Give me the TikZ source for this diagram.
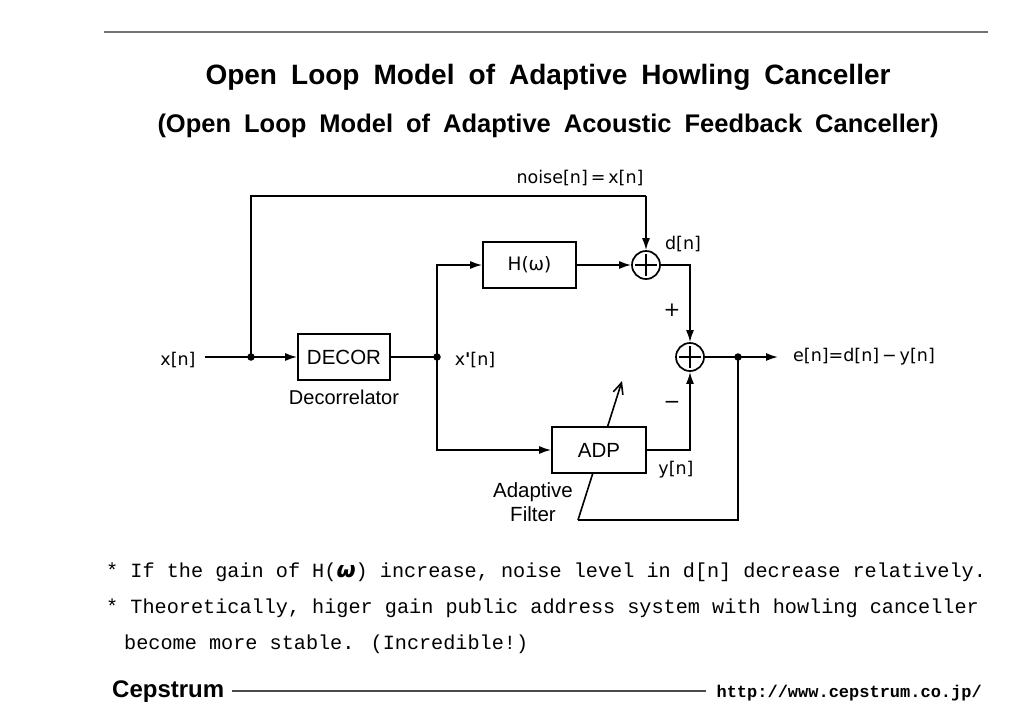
\documentclass[tikz,border=0pt]{standalone}
\usepackage{fontspec}
\setmainfont{Liberation Sans}
\newfontfamily\verd{DejaVu Sans}
\newfontfamily\arl{Liberation Sans}
\newfontfamily\cour{Liberation Mono}
\usetikzlibrary{arrows.meta}
\tikzset{
  sig/.style={line width=1.7pt,-{Latex[length=12pt,width=8pt]}},
  wire/.style={line width=1.7pt},
  box/.style={draw,line width=1.7pt,fill=white,minimum width=93pt,minimum height=46pt,inner sep=0pt},
  sumnode/.style={draw,circle,line width=1.7pt,minimum size=28pt,inner sep=0pt,fill=white,
    path picture={\draw[line width=1.7pt,shorten <=3pt,shorten >=3pt] (path picture bounding box.north) -- (path picture bounding box.south);
                  \draw[line width=1.7pt,shorten <=3pt,shorten >=3pt] (path picture bounding box.west) -- (path picture bounding box.east);}},
  dotnode/.style={circle,fill=black,minimum size=7.5pt,inner sep=0pt},
  lbl/.style={font=\verd\fontsize{17.5}{20}\selectfont,inner sep=0pt},
  albl/.style={font=\arl\fontsize{20}{22}\selectfont,inner sep=0pt},
  note/.style={font=\cour\fontsize{20.2}{22}\selectfont,inner sep=0pt,anchor=west}
}
\begin{document}
\begin{tikzpicture}[x=1pt,y=-1pt]
\useasboundingbox[fill=white] (0,0) rectangle (1024,724);
% rules
\draw[line width=1.2pt,black!55] (104,32) -- (988,32);
% titles
\node[inner sep=0pt,font=\bfseries\fontsize{28}{30}\selectfont] (t1) at (548,77) {\makebox[685pt][s]{Open Loop Model of Adaptive Howling Canceller}};
\node[inner sep=0pt,font=\bfseries\fontsize{25.5}{28}\selectfont] (t2) at (548,126) {\makebox[781pt][s]{(Open Loop Model of Adaptive Acoustic Feedback Canceller)}};
% coordinates
\coordinate (xin) at (205,357);
\coordinate (tl) at (251,196);
\coordinate (tr) at (646,196);
\coordinate (eout) at (778,357);
\coordinate (fb) at (578,520);
\coordinate (adtip) at (622,381);
% adaptation line (under the ADP box)
\draw[wire] (738,357) |- (fb);
\draw[line width=1.6pt,-{Straight Barb[length=11pt,width=10pt]}] (fb) -- (adtip);
% blocks
\node[box] (H) at (529.5,265) {\verd\fontsize{18.5}{20}\selectfont H(ω)};
\node[box,minimum width=92pt] (DEC) at (344,357) {\arl\fontsize{20.5}{22}\selectfont DECOR};
\node[box,minimum width=94pt] (ADP) at (599,450) {\arl\fontsize{20.5}{22}\selectfont ADP};
\node[sumnode] (S1) at (646,265) {};
\node[sumnode] (S2) at (690,357) {};
\node[dotnode] (j1) at (251,357) {};
\node[dotnode] (j2) at (437,357) {};
\node[dotnode] (j3) at (738,357) {};
% connectors
\draw[sig] (xin) -- (DEC.west);
\draw[wire] (j1.center) -- (tl) -- (tr);
\draw[sig] (tr) -- (S1.north);
\draw[wire] (DEC.east) -- (j2.center);
\draw[sig] (j2.center) |- (H.west);
\draw[sig] (j2.center) |- (ADP.west);
\draw[sig] (H.east) -- (S1.west);
\draw[sig] (S1.east) -| (S2.north);
\draw[sig] (ADP.east) -| (S2.south);
\draw[wire] (S2.east) -- (j3.center);
\draw[sig] (j3.center) -- (eout);
% labels
\node[lbl] (lnoise) at (580,178) {noise[n]\,=\,x[n]};
\node[lbl] (ld) at (683,244) {d[n]};
\node[lbl,font=\verd\fontsize{20}{20}\selectfont] (lplus) at (672,310) {+};
\node[lbl,font=\verd\fontsize{20}{20}\selectfont] (lminus) at (672,405) {−};
\node[lbl] (lx) at (178,360) {x[n]};
\node[lbl] (lxp) at (475,360) {x\textbf{'}[n]};
\node[lbl] (ly) at (676,470) {y[n]};
\node[lbl,anchor=west] (le) at (793,357) {e[n]=d[n]\,−\,y[n]};
\node[albl] (ldec) at (344,397) {Decorrelator};
\node[albl,align=center,font=\arl\fontsize{20.5}{24}\selectfont] (lad) at (533,502) {Adaptive\\Filter};
% notes
\node[note] (n1) at (106,572) {* If the gain of H({\verd\bfseries\itshape\fontsize{22}{22}\selectfont ω}) increase, noise level in d[n] decrease relatively.};
\node[note] (n2) at (106,608) {* Theoretically, higer gain public address system with howling canceller};
\node[note] (n3) at (124,644) {become more stable. (Incredible!)};
% footer
\node[inner sep=0pt,anchor=west,font=\arl\bfseries\fontsize{24}{26}\selectfont] (cep) at (112,692) {Cepstrum};
\draw[line width=1.2pt,black!70] (232,691) -- (706,691);
\node[inner sep=0pt,anchor=east,font=\cour\bfseries\fontsize{17}{20}\selectfont] (url) at (982,693) {http://www.cepstrum.co.jp/};
\end{tikzpicture}
\end{document}
